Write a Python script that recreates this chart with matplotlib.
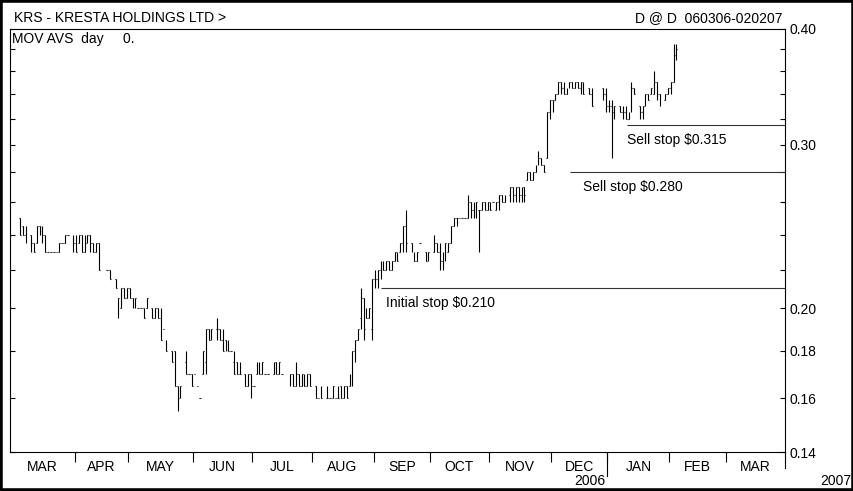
import matplotlib.pyplot as plt
import numpy as np
from matplotlib.patches import Rectangle
from matplotlib.ticker import FixedFormatter, FixedLocator, NullLocator

plt.rcParams["font.family"] = ["Liberation Sans", "DejaVu Sans"]

TITLE = "KRS - KRESTA HOLDINGS LTD >"
PERIOD = "D @ D  060306-020207"
STUDY = "MOV AVS  day     0."

# trading-day slots per month on the time axis (Mar 2006 .. Mar 2007)
MONTHS = ["MAR", "APR", "MAY", "JUN", "JUL", "AUG", "SEP",
          "OCT", "NOV", "DEC", "JAN", "FEB", "MAR"]
MONTH_DAYS = [23, 19, 23, 21, 21, 22, 20, 21, 22, 20, 22, 20, 21]
YEAR_END_MONTH = "DEC"

FIRST_DAY = 3  # first traded slot (6 March 2006)

# daily prices in cents, None = no trade that day
HIGH = [
    25.0, 24.5, 24.5, None, 24.0, 23.5, 24.5, 24.5, 24.5, 24.0,
    23.0, 23.0, 23.0, 23.0, 23.5, 23.5, 24.0, 24.0, None, 24.0,
    24.0, 24.0, 24.0, 24.0, 24.0, 24.0, 23.5, 23.5, 23.5, None,
    None, 22.0, 22.0, None, 21.5, 20.5, 21.0, 21.0, 21.0, 21.0,
    20.5, 20.5, 20.0, 20.0, 20.0, 20.5, None, 20.0, 20.0, 20.0,
    20.0, 19.0, 18.5, None, 18.0, 18.0, 16.5, 16.5, None, 18.0,
    17.0, 17.0, 17.0, 16.5, 16.0, 18.0, 19.0, 19.0, 19.0, None,
    19.5, 19.0, 19.0, 18.5, 18.5, 18.0, 18.0, 17.5, 17.5, None,
    17.0, 17.0, 17.0, 16.5, 17.5, 17.5, 17.5, 17.0, 17.0, None,
    17.5, 17.5, 17.5, 17.0, None, None, 17.0, 17.0, 17.5, 17.0,
    17.0, 17.0, 17.0, 17.0, None, 16.5, 16.0, 16.5, None, 16.5,
    16.0, 16.5, 16.0, 16.5, 16.5, 16.5, 16.5, 17.0, 18.0, 18.5,
    19.0, 21.0, 20.5, 20.0, 20.0, 21.5, 22.0, 22.0, 22.5, 22.5,
    22.5, 22.5, 22.5, 23.0, 23.0, 23.5, 24.5, 25.5, None, 23.5,
    23.0, 23.0, 23.5, None, 23.0, 23.0, None, 24.0, 23.5, 23.5,
    23.0, 23.5, 23.5, 24.5, 25.0, 25.0, 25.0, 25.0, 25.0, 26.5,
    26.0, 26.0, 26.0, 25.5, 26.0, 26.0, 26.0, 26.0, 26.0, 26.0,
    26.5, 26.5, 26.5, None, 27.0, 27.0, 27.0, 27.0, 27.0, 27.0,
    28.0, 28.0, 28.0, 28.5, 29.5, 29.0, 28.5, 32.5, 33.5, 33.5,
    34.0, 35.0, 35.0, 35.0, 34.5, 35.0, 35.0, 35.0, 35.0, 35.0,
    35.0, None, 34.5, 34.5, None, None, None, 34.5, 34.5, 33.5,
    33.5, 33.0, None, 33.0, 33.0, 33.0, 32.5, 35.0, 34.5, None,
    33.0, 33.0, 34.0, 34.0, 34.5, 36.0, 35.0, 34.0, None, 34.0,
    34.5, 35.0, 38.5, 38.5,
]
LOW = [
    24.0, 24.0, 23.5, None, 23.0, 23.0, 23.5, 24.0, 23.5, 23.0,
    23.0, 23.0, 23.0, 23.0, 23.0, 23.5, 23.5, 24.0, None, 23.0,
    23.0, 23.5, 23.0, 23.0, 23.5, 23.0, 23.0, 23.0, 22.0, None,
    None, 22.0, 21.5, None, 21.0, 19.5, 20.0, 20.5, 20.5, 20.5,
    20.0, 20.0, 20.0, 20.0, 19.5, 20.0, None, 19.5, 19.5, 19.5,
    18.5, 19.0, 18.0, None, 17.5, 16.5, 15.5, 16.0, None, 17.0,
    17.0, 16.5, 17.0, 16.5, 16.0, 17.0, 17.0, 18.5, 18.5, None,
    18.5, 18.5, 18.0, 18.0, 18.0, 18.0, 17.0, 17.0, 17.0, None,
    16.5, 16.5, 16.0, 16.5, 17.0, 17.0, 17.0, 17.0, 17.0, None,
    17.0, 17.0, 17.0, 17.0, None, None, 16.5, 16.5, 16.5, 16.5,
    16.5, 16.5, 16.5, 16.5, None, 16.0, 16.0, 16.0, None, 16.0,
    16.0, 16.0, 16.0, 16.0, 16.0, 16.0, 16.0, 16.5, 16.5, 17.5,
    18.5, 19.0, 18.5, 19.5, 19.5, 18.5, 21.0, 21.0, 21.5, 22.0,
    22.0, 22.0, 22.0, 22.5, 22.5, 23.0, 23.0, 23.0, None, 23.0,
    22.5, 22.5, 23.5, None, 22.5, 22.5, None, 23.0, 23.0, 22.0,
    22.0, 22.5, 23.0, 23.5, 24.5, 24.5, 25.0, 25.0, 25.0, 25.0,
    25.0, 25.0, 25.0, 23.0, 25.5, 25.5, 25.5, 25.5, 26.0, 25.5,
    25.5, 26.0, 26.0, None, 26.0, 26.0, 26.0, 26.0, 26.0, 26.0,
    27.5, 27.5, 27.5, 28.0, 28.5, 28.5, 28.0, 29.0, 32.0, 32.5,
    33.5, 34.0, 34.0, 34.0, 34.0, 34.5, 34.5, 34.5, 34.5, 34.0,
    34.0, None, 34.0, 33.0, None, None, None, 33.5, 32.5, 32.5,
    29.0, 32.0, None, 32.5, 32.0, 32.0, 32.0, 32.5, 34.0, None,
    32.0, 32.0, 33.0, 33.5, 34.0, 34.0, 33.5, 33.0, None, 33.5,
    34.0, 34.0, 35.0, 37.0,
]
OPEN = [
    25.0, 24.5, 24.0, None, 24.0, 23.5, 23.5, 24.5, 24.0, 24.0,
    23.0, 23.0, 23.0, 23.0, 23.0, 23.5, 23.5, 24.0, None, 24.0,
    23.5, 23.5, 24.0, 23.0, 23.5, 24.0, 23.5, 23.0, 23.5, None,
    None, 22.0, 22.0, None, 21.5, 19.5, 20.0, 21.0, 20.5, 21.0,
    20.5, 20.0, 20.0, 20.0, 20.0, 20.0, None, 20.0, 19.5, 20.0,
    19.5, 19.0, 18.5, None, 18.0, 18.0, 16.5, 16.0, None, 17.5,
    17.0, 17.0, 17.0, 16.5, 16.0, 17.0, 17.5, 19.0, 18.5, None,
    19.0, 19.0, 18.5, 18.5, 18.0, 18.0, 17.5, 17.5, 17.0, None,
    17.0, 16.5, 17.0, 16.5, 17.0, 17.5, 17.0, 17.0, 17.0, None,
    17.0, 17.5, 17.0, 17.0, None, None, 16.5, 17.0, 16.5, 17.0,
    16.5, 17.0, 16.5, 17.0, None, 16.5, 16.0, 16.0, None, 16.0,
    16.0, 16.0, 16.0, 16.0, 16.5, 16.0, 16.5, 16.5, 17.0, 18.0,
    18.5, 19.5, 20.5, 19.5, 19.5, 19.0, 21.5, 21.5, 22.0, 22.5,
    22.0, 22.5, 22.0, 22.5, 23.0, 23.0, 23.5, 24.5, None, 23.5,
    23.0, 22.5, 23.5, None, 23.0, 22.5, None, 23.0, 23.5, 23.0,
    22.5, 23.0, 23.0, 23.5, 24.5, 25.0, 25.0, 25.0, 25.0, 25.0,
    26.0, 25.5, 25.0, 25.5, 25.5, 26.0, 25.5, 26.0, 26.0, 25.5,
    26.0, 26.5, 26.0, None, 26.5, 27.0, 26.5, 27.0, 26.5, 27.0,
    27.5, 28.0, 27.5, 28.0, 28.5, 29.0, 28.5, 29.0, 32.5, 33.5,
    33.5, 34.0, 35.0, 34.5, 34.0, 34.5, 35.0, 34.5, 35.0, 34.5,
    35.0, None, 34.5, 34.0, None, None, None, 34.5, 34.0, 33.0,
    33.0, 32.5, None, 33.0, 32.5, 32.5, 32.0, 32.5, 34.5, None,
    33.0, 32.5, 33.0, 34.0, 34.0, 34.0, 35.0, 34.0, None, 33.5,
    34.0, 34.5, 35.0, 37.5,
]
CLOSE = [
    24.0, 24.0, 23.5, None, 23.5, 23.0, 24.5, 24.5, 24.0, 23.0,
    23.0, 23.0, 23.0, 23.0, 23.5, 23.5, 24.0, 24.0, None, 23.5,
    23.0, 24.0, 23.0, 23.5, 24.0, 23.5, 23.0, 23.5, 22.0, None,
    None, 22.0, 21.5, None, 21.0, 20.5, 21.0, 20.5, 21.0, 20.5,
    20.0, 20.5, 20.0, 20.0, 19.5, 20.5, None, 19.5, 20.0, 19.5,
    18.5, 19.0, 18.0, None, 17.5, 16.5, 16.0, 16.5, None, 17.0,
    17.0, 16.5, 17.0, 16.5, 16.0, 18.0, 19.0, 18.5, 19.0, None,
    19.0, 18.5, 18.0, 18.0, 18.0, 18.0, 17.0, 17.0, 17.0, None,
    16.5, 17.0, 16.5, 16.5, 17.5, 17.0, 17.5, 17.0, 17.0, None,
    17.5, 17.0, 17.5, 17.0, None, None, 17.0, 16.5, 17.0, 16.5,
    17.0, 16.5, 17.0, 16.5, None, 16.0, 16.0, 16.0, None, 16.0,
    16.0, 16.5, 16.0, 16.0, 16.0, 16.5, 16.0, 17.0, 18.0, 18.5,
    19.0, 20.5, 19.0, 19.5, 20.0, 21.5, 21.5, 22.0, 22.5, 22.0,
    22.5, 22.0, 22.5, 23.0, 22.5, 23.5, 24.5, 23.5, None, 23.0,
    22.5, 23.0, 23.5, None, 22.5, 23.0, None, 23.5, 23.0, 22.5,
    23.0, 23.5, 23.5, 24.5, 25.0, 25.0, 25.0, 25.0, 25.0, 26.0,
    25.5, 25.0, 26.0, 25.5, 26.0, 25.5, 26.0, 25.5, 26.0, 26.0,
    26.5, 26.0, 26.5, None, 27.0, 26.5, 27.0, 26.5, 27.0, 26.5,
    28.0, 27.5, 28.0, 28.5, 29.0, 28.5, 28.0, 32.5, 33.5, 33.0,
    34.0, 35.0, 34.5, 34.0, 34.5, 35.0, 34.5, 35.0, 34.5, 35.0,
    34.0, None, 34.0, 33.0, None, None, None, 34.0, 33.0, 33.0,
    32.5, 33.0, None, 32.5, 32.5, 32.0, 32.5, 34.5, 34.0, None,
    32.5, 33.0, 34.0, 33.5, 34.5, 35.0, 34.0, 33.5, None, 34.0,
    34.5, 35.0, 37.5, 38.0,
]

# stop levels ($), the day slot each line starts on, and where its note sits
STOP_LEVELS = [0.210, 0.280, 0.315]
STOP_START = [131.5, 198.7, 218.8]
STOP_NOTE_X = [133.5, 203.3, 218.8]
STOP_NOTES = ["Initial stop $0.210", "Sell stop $0.280", "Sell stop $0.315"]

PRICE_TICKS = [0.14, 0.16, 0.18, 0.20, 0.22, 0.24, 0.26, 0.28,
               0.30, 0.32, 0.34, 0.36, 0.38, 0.40]
PRICE_LABELS = [0.14, 0.16, 0.18, 0.20, 0.30, 0.40]

W, H = 854, 491
AX_LEFT, AX_RIGHT, AX_TOP, AX_BOTTOM = 10, 785, 28.5, 452

fig = plt.figure(figsize=(W / 100, H / 100), dpi=100)
ax = fig.add_axes([AX_LEFT / W, 1 - AX_BOTTOM / H,
                   (AX_RIGHT - AX_LEFT) / W, (AX_BOTTOM - AX_TOP) / H])

high = np.array(HIGH, dtype=float) / 100
low = np.array(LOW, dtype=float) / 100
opn = np.array(OPEN, dtype=float) / 100
cls = np.array(CLOSE, dtype=float) / 100
x = FIRST_DAY + np.arange(len(high)) + 0.5
ok = ~np.isnan(high)

# OHLC bars: range line, open tick to the left, close tick to the right
bar_kw = dict(color="black", linewidth=0.8)
ax.vlines(x[ok], low[ok], high[ok], **bar_kw)
ax.hlines(opn[ok], x[ok] - 0.3, x[ok], **bar_kw)
ax.hlines(cls[ok], x[ok], x[ok] + 0.3, **bar_kw)

total_days = sum(MONTH_DAYS)
for level, start, note_x, note in zip(STOP_LEVELS, STOP_START, STOP_NOTE_X, STOP_NOTES):
    ax.hlines(level, start, total_days, color="#333333", linewidth=0.8)
    ax.annotate(note, xy=(note_x, level), xytext=(0, -15), textcoords="offset pixels",
                ha="left", va="center", fontsize=10)

ax.set_yscale("log")
ax.set_ylim(0.14, 0.40)
ax.set_xlim(0, total_days)

ax.yaxis.set_major_locator(FixedLocator(PRICE_TICKS))
ax.yaxis.set_minor_locator(NullLocator())
ax.yaxis.set_major_formatter(FixedFormatter(
    [f"{t:.2f}" if t in PRICE_LABELS else "" for t in PRICE_TICKS]))
ax.tick_params(axis="y", which="major", direction="in", length=3.5, width=0.8,
               left=True, right=True, labelleft=False, labelright=True,
               labelsize=10, pad=3)

bounds = np.cumsum(MONTH_DAYS)
centres = bounds - np.array(MONTH_DAYS) / 2
ax.xaxis.set_major_locator(FixedLocator(bounds[:-1]))
ax.xaxis.set_major_formatter(FixedFormatter([""] * (len(bounds) - 1)))
ax.xaxis.set_minor_locator(FixedLocator(centres))
ax.xaxis.set_minor_formatter(FixedFormatter(MONTHS))
ax.tick_params(axis="x", which="major", direction="out", length=7, width=0.8)
ax.tick_params(axis="x", which="minor", length=0, labelsize=10, pad=6)

for spine in ax.spines.values():
    spine.set_linewidth(0.8)

# longer separators at the year end and at the right edge
year_end = bounds[MONTHS.index(YEAR_END_MONTH)]
xt = ax.get_xaxis_transform()
ax_h = AX_BOTTOM - AX_TOP
ax.plot([year_end, year_end], [0, -24 / ax_h], transform=xt, color="black",
        linewidth=0.8, clip_on=False)
ax.plot([total_days, total_days], [0, -16 / ax_h], transform=xt, color="black",
        linewidth=0.8, clip_on=False)
ax.text(year_end - 0.6, -29 / ax_h, "2006", transform=xt, ha="right", va="center",
        fontsize=10)
fig.text(851 / W, 1 - 481 / H, "2007", ha="right", va="center", fontsize=10)

fig.text(14 / W, 1 - 18 / H, TITLE, ha="left", va="center", fontsize=10)
fig.text(783 / W, 1 - 18 / H, PERIOD, ha="right", va="center", fontsize=10)
fig.text(12 / W, 1 - 39 / H, STUDY, ha="left", va="center", fontsize=10)

fig.add_artist(Rectangle((0, 0), 1, 1, transform=fig.transFigure, fill=False,
                         edgecolor="black", linewidth=4))

fig.savefig("out.png", dpi=100)
